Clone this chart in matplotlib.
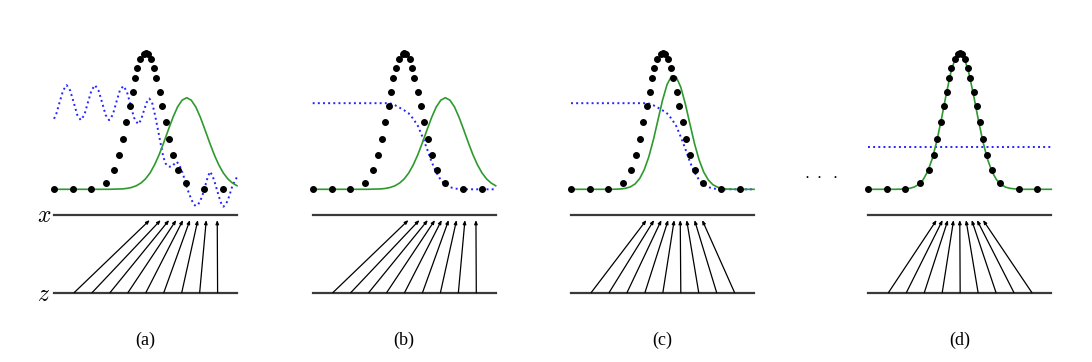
import numpy as np
import matplotlib.pyplot as plt

plt.rcParams['mathtext.fontset'] = 'cm'

# common x grid (percent of the x axis width)
grid = np.linspace(0, 100, 41)

# data distribution (black dots) and its density
p_data = [0, 0, 0, 0, 0, 0, 0, 0.1, 0.3, 0.7, 1.6, 3.5, 7.1, 13.2, 22.6, 35.6, 51.7, 69.0, 84.8, 96.0,
          100, 96.0, 84.8, 69.0, 51.7, 35.6, 22.6, 13.2, 7.1, 3.5, 1.6, 0.7, 0.3, 0.1, 0, 0, 0, 0, 0, 0, 0]
sample_x = [0, 10.3, 20.2, 28.5, 32.9, 35.7, 37.7, 39.5, 41.5, 43.0, 44.1, 45.4, 47.2, 49.1, 50.0,
            51.1, 52.9, 54.4, 55.5, 57.7, 59.2, 61.0, 62.9, 65.1, 67.8, 72.1, 82.2, 92.3]
sample_y = [0, 0, 0, 4.4, 13.9, 25.1, 37.0, 49.1, 60.6, 71.3, 81.5, 89.1, 95.1, 99.3, 100,
            99.3, 95.1, 89.1, 81.5, 71.3, 60.6, 49.1, 37.0, 25.1, 13.9, 4.4, 0, 0]

# generator distribution (green)
p_g_ab = [0, 0, 0, 0, 0, 0, 0, 0, 0, 0, 0, 0, 0, 0.1, 0.2, 0.3, 0.7, 1.4, 2.6, 4.6,
          7.6, 12.0, 18.0, 25.5, 34.3, 43.6, 52.6, 60.2, 65.2, 67.0, 65.2, 60.2, 52.6, 43.6,
          34.3, 25.5, 18.0, 12.0, 7.6, 4.6, 2.6]
p_g_c = [0, 0, 0, 0, 0, 0, 0, 0, 0, 0, 0.1, 0.3, 0.8, 1.8, 3.9, 7.8, 14.2, 23.7, 36.1, 50.6,
         65.1, 76.7, 82.9, 82.2, 74.7, 62.3, 47.7, 33.4, 21.5, 12.7, 6.9, 3.4, 1.6, 0.6, 0.2, 0.1,
         0, 0, 0, 0, 0]

# discriminator (blue dotted)
d_a_x = [0, 1.1, 3.0, 5.0, 6.9, 8.8, 10.8, 12.7, 14.6, 16.6, 18.5, 20.5, 22.4, 24.3, 26.3, 28.2,
         30.1, 32.1, 34.0, 36.0, 37.9, 39.8, 41.8, 43.7, 45.9, 47.5, 49.0, 50.6, 52.1, 53.6, 55.2,
         56.6, 57.9, 59.0, 59.7, 61.0, 62.5, 64.3, 65.7, 67.0, 68.4, 69.7, 71.1, 72.5, 73.9, 75.2,
         76.3, 77.4, 78.6, 79.8, 81.2, 82.5, 83.9, 85.2, 86.6, 88.0, 89.4, 90.7, 91.6, 92.5, 93.6,
         95.0, 96.2, 97.6, 99.0, 100]
d_a = [51.6, 54.4, 63.4, 72.4, 76.2, 72.4, 63.4, 54.4, 50.6, 54.4, 63.4, 72.4, 76.2, 72.4, 63.4, 54.4,
       50.6, 54.4, 63.4, 72.4, 75.6, 71.5, 62.0, 52.5, 47.7, 50.5, 57.0, 63.5, 66.4, 63.5, 54.3,
       45.0, 36.0, 28.5, 23.8, 18.8, 16.6, 16.5, 18.5, 20.2, 18.0, 14.1, 8.5, 1.9, -3.5, -7.8,
       -10.8, -12.2, -11.3, -9.0, -4.0, 1.9, 8.5, 12.9, 10.0, 4.4, -2.0, -7.8, -11.0, -12.7, -11.5,
       -8.0, -3.0, 3.0, 6.5, 9.0]
d_bc = [63.0] * 17 + [62.8, 61.5, 59.7, 57.8, 55.5, 51.5, 46.3, 38.3, 29.5, 20.0, 12.4, 6.8,
                      3.5, 1.6, 0.6, 0.2] + [0] * 8
d_d = 31.1

# mapping z -> x (arrows)
z_pts = [11.0, 20.8, 30.6, 40.4, 50.2, 60.0, 69.8, 79.6, 89.4]
x_tops_ab = [52.3, 58.3, 62.9, 66.8, 70.5, 74.3, 78.6, 83.2, 89.2]
x_tops_c = [41.2, 45.4, 49.4, 53.1, 56.4, 59.7, 63.2, 67.5, 71.7]
x_tops_d = [37.3, 40.6, 43.5, 46.6, 50.0, 53.4, 56.5, 59.4, 62.7]

labels = ['(a)', '(b)', '(c)', '(d)']

panels = [
    (grid, p_g_ab, d_a_x, d_a, x_tops_ab),
    (grid, p_g_ab, grid, d_bc, x_tops_ab),
    (grid, p_g_c, grid, d_bc, x_tops_c),
    (grid, p_data, [0, 100], [d_d, d_d], x_tops_d),
]

# layout in pixels
W, H = 1092, 362
starts = [54, 312.7, 571, 868.3]
pw = 183
base_py = 189.3
unit = 1.367
y_lo, y_hi = -80, 105
x_line, z_line, tip = -18.8, -75.6, -22.5

green = '#2e9a2e'
blue = '#2424ff'

fig = plt.figure(figsize=(W / 100, H / 100), dpi=100)

for i, (gx, gy, dx, dy, tops) in enumerate(panels):
    bottom = H - (base_py - y_lo * unit)
    top = H - (base_py - y_hi * unit)
    ax = fig.add_axes([starts[i] / W, bottom / H, pw / W, (top - bottom) / H])
    ax.set_xlim(0, 100)
    ax.set_ylim(y_lo, y_hi)
    ax.axis('off')

    ax.plot([0, 100], [x_line, x_line], color='#3a3a3a', lw=1.6, clip_on=False)
    ax.plot([0, 100], [z_line, z_line], color='#3a3a3a', lw=1.6, clip_on=False)
    for zb, xt in zip(z_pts, tops):
        ax.annotate('', xy=(xt, tip), xytext=(zb, z_line),
                    arrowprops=dict(arrowstyle='-|>,head_length=0.22,head_width=0.09',
                                    color='black', lw=0.9, shrinkA=0, shrinkB=0))

    ax.plot(dx, dy, color=blue, ls=':', lw=1.4, clip_on=False)
    ax.plot(gx, gy, color=green, lw=1.2, clip_on=False)
    ax.plot(sample_x, sample_y, 'o', color='black', ms=4.0, clip_on=False)

    fig.text((starts[i] + pw / 2) / W, 1 - 340 / H, labels[i], ha='center', va='center',
             family='Liberation Serif', fontsize=13)

    if i == 0:
        ax.text(-5.5, x_line, '$x$', ha='center', va='center', fontsize=17)
        ax.text(-5.5, z_line - 1, '$z$', ha='center', va='center', fontsize=17)

fig.text(821 / W, 1 - 174 / H, r'$\cdot\;\cdot\;\cdot$', ha='center', va='center',
         fontsize=13)

fig.savefig('out.png', dpi=100)
